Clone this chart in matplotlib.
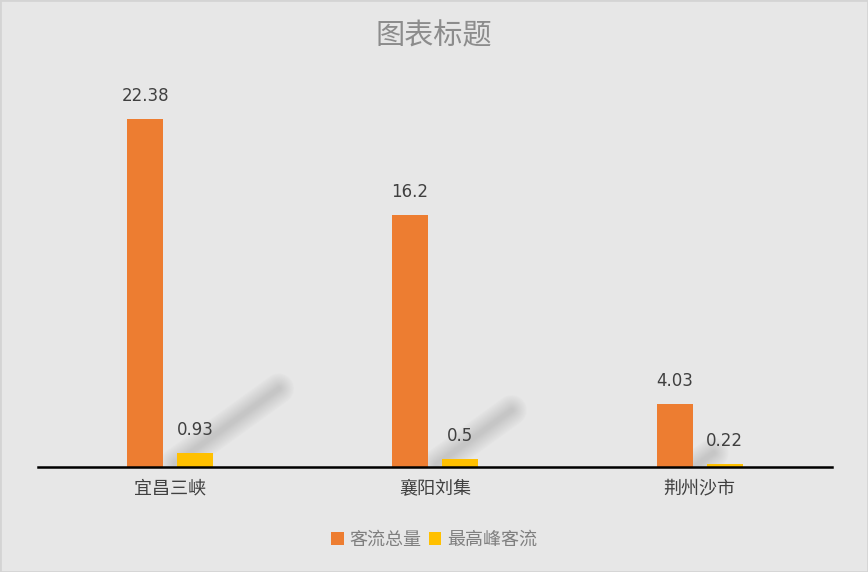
import matplotlib
matplotlib.use("Agg")
import matplotlib.pyplot as plt
import numpy as np
from matplotlib.patches import Rectangle

plt.rcParams['font.family'] = ['Noto Sans CJK SC', 'DejaVu Sans']

categories = ["宜昌三峡", "襄阳刘集", "荆州沙市"]
series_names = ["客流总量", "最高峰客流"]
total_flow = [22.38, 16.2, 4.03]
peak_flow = [0.93, 0.5, 0.22]
value_labels_total = ["22.38", "16.2", "4.03"]
value_labels_peak = ["0.93", "0.5", "0.22"]
title = "图表标题"

bg = "#e7e7e7"
orange = "#ED7D31"
yellow = "#FFC000"

fig = plt.figure(figsize=(8.68, 5.72), dpi=100, facecolor=bg)
ax = fig.add_axes([38/868, (572-467)/572, (832-38)/868, (467-78)/572])
ax.set_facecolor(bg)

x = np.arange(len(categories))
w = 0.136
off = 0.0945

# soft perspective shadows cast by the orange bars
for xi, h in zip(x, total_flow):
    xr = xi - off + w/2
    xs = [xr + 0.002*h, xr + 0.0195*h]
    ys = [0.01*h, 0.225*h]
    for lw in np.linspace(22, 3, 16):
        ax.plot(xs, ys, color="#808080", alpha=0.018, lw=lw,
                solid_capstyle="round", zorder=1)

b1 = ax.bar(x - off, total_flow, w, color=orange, zorder=3, label=series_names[0])
b2 = ax.bar(x + off, peak_flow, w, color=yellow, zorder=3, label=series_names[1])

for xi, h, s in zip(x, total_flow, value_labels_total):
    ax.annotate(s, (xi - off, h), xytext=(0, 10), textcoords="offset points",
                ha="center", va="bottom", fontsize=12, color="#404040",
                family=['DejaVu Sans'])
for xi, h, s in zip(x, peak_flow, value_labels_peak):
    ax.annotate(s, (xi + off, h), xytext=(0, 10), textcoords="offset points",
                ha="center", va="bottom", fontsize=12, color="#404040",
                family=['DejaVu Sans'])

ax.set_xlim(-0.5, 2.5)
ax.set_ylim(0, 25)
for sp in ["top", "right", "left"]:
    ax.spines[sp].set_visible(False)
ax.spines["bottom"].set_color("black")
ax.spines["bottom"].set_linewidth(1.8)
ax.spines["bottom"].set_zorder(4)
ax.set_yticks([])
ax.set_xticks(x)
ax.set_xticklabels(categories, fontsize=13, color="#404040")
ax.tick_params(axis="x", length=0, pad=9)

fig.text(0.5, 1 - 36/572, title, ha="center", va="center", fontsize=21, color="#8c8c8c")

leg = fig.legend(handles=[b1, b2], labels=series_names, loc="center",
                 bbox_to_anchor=(0.5, 1 - 540/572), ncol=2, frameon=False,
                 fontsize=13, handlelength=0.7, handleheight=0.7,
                 handletextpad=0.3, columnspacing=0.4, labelcolor="#7f7f7f")

fig.patches.append(Rectangle((0, 0), 1, 1, transform=fig.transFigure,
                             facecolor="none", edgecolor="#d4d4d4", linewidth=2))

fig.savefig("out.png", dpi=100, facecolor=bg)
